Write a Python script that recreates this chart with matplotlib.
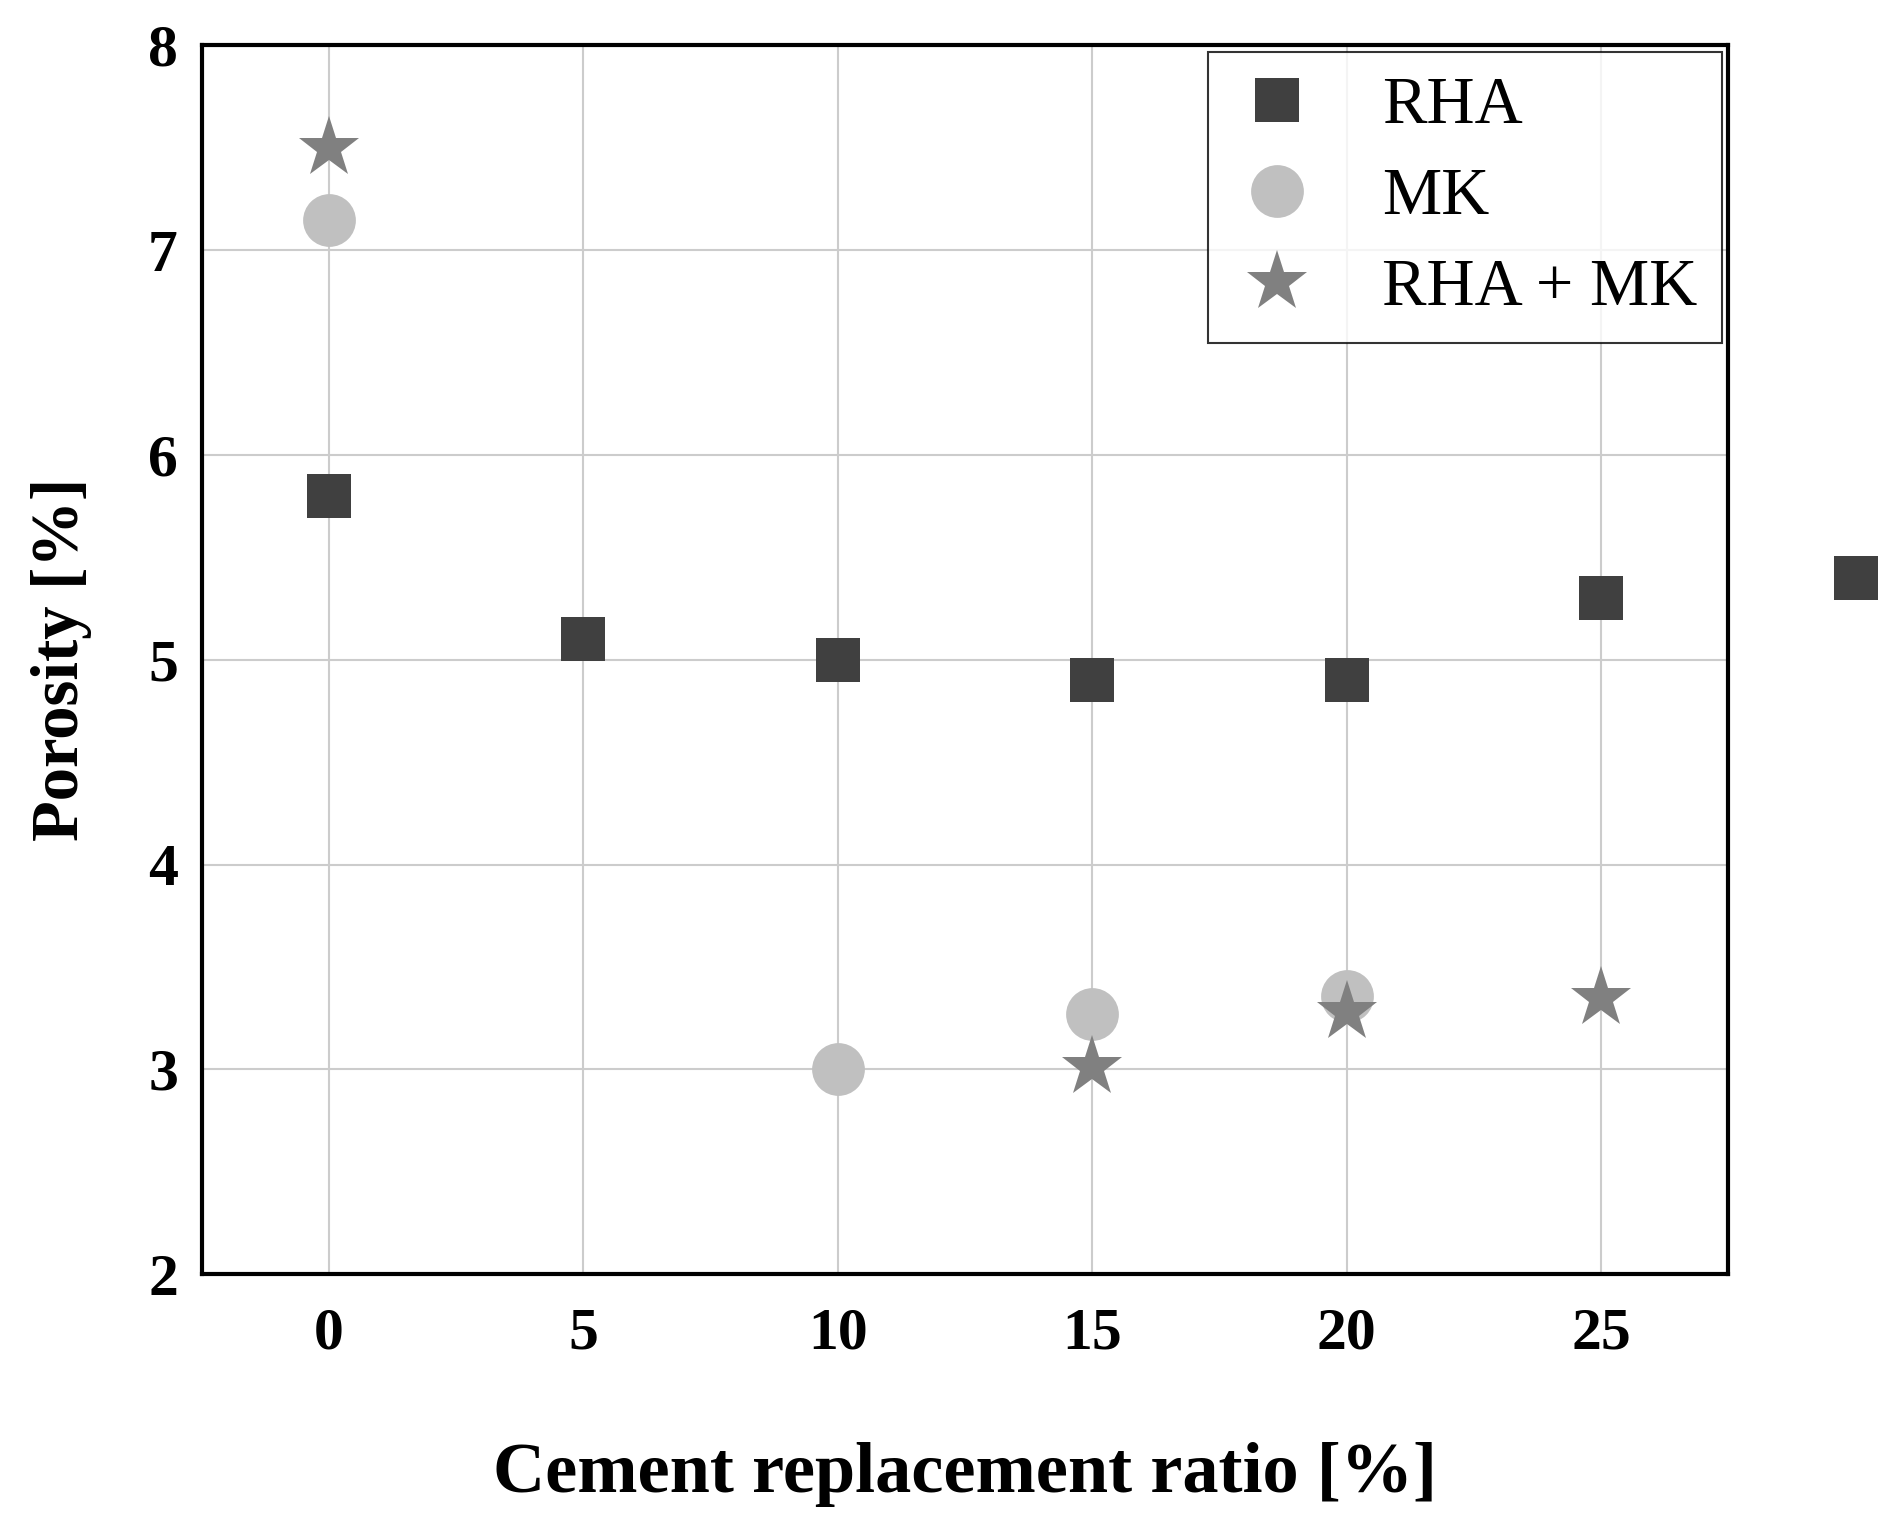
import numpy as np
import matplotlib.pyplot as plt

# valores
x_rha = [0, 5, 10, 15, 20, 25, 30]
y_rha = [5.8, 5.1, 5.0, 4.9, 4.9, 5.3, 5.4]
x_mk = [0, 10, 15, 20]
y_mk = [7.15, 3.0, 3.27, 3.36]
x_mix = [0, 15, 20, 25]
y_mix = [7.5, 3.01, 3.28, 3.35]

plt.rcParams['font.family'] = ['Liberation Serif', 'DejaVu Serif']

fig = plt.figure(figsize=(18.93, 15.15), dpi=100)
ax = fig.add_axes([0.1065, 0.159, 0.8065, 0.811])

ax.plot(x_rha, y_rha, 's', color='#404040', ms=32, mew=0, label='RHA', clip_on=False, zorder=3)
ax.plot(x_mk, y_mk, 'o', color='#c0c0c0', ms=38, mew=0, label='MK', clip_on=False, zorder=3)
ax.plot(x_mix, y_mix, '*', color='#808080', ms=46, mew=0, label='RHA + MK', clip_on=False, zorder=4)

ax.set_xlim(-2.5, 27.5)
ax.set_ylim(2, 8)
ax.set_xticks([0, 5, 10, 15, 20, 25])
ax.set_yticks([2, 3, 4, 5, 6, 7, 8])
ax.grid(True, color='#cccccc', lw=1.5)
ax.set_axisbelow(True)
ax.tick_params(length=0, labelsize=43)
ax.tick_params(axis='x', pad=24)
ax.tick_params(axis='y', pad=17)
for t in ax.get_xticklabels() + ax.get_yticklabels():
    t.set_fontweight('bold')
for s in ax.spines.values():
    s.set_linewidth(3)

ax.set_xlabel('Cement replacement ratio [%]', fontsize=52, fontweight='bold', labelpad=58)
ax.set_ylabel('Porosity [%]', fontsize=48, fontweight='bold', labelpad=40)

leg = ax.legend(loc='upper right', fontsize=48, frameon=True, fancybox=False,
                borderaxespad=0.1, handletextpad=0.9, labelspacing=0.45,
                borderpad=0.36, handlelength=1.35)
leg.get_frame().set_edgecolor('black')
leg.get_frame().set_linewidth(1.5)

fig.savefig('out.png', dpi=100)
